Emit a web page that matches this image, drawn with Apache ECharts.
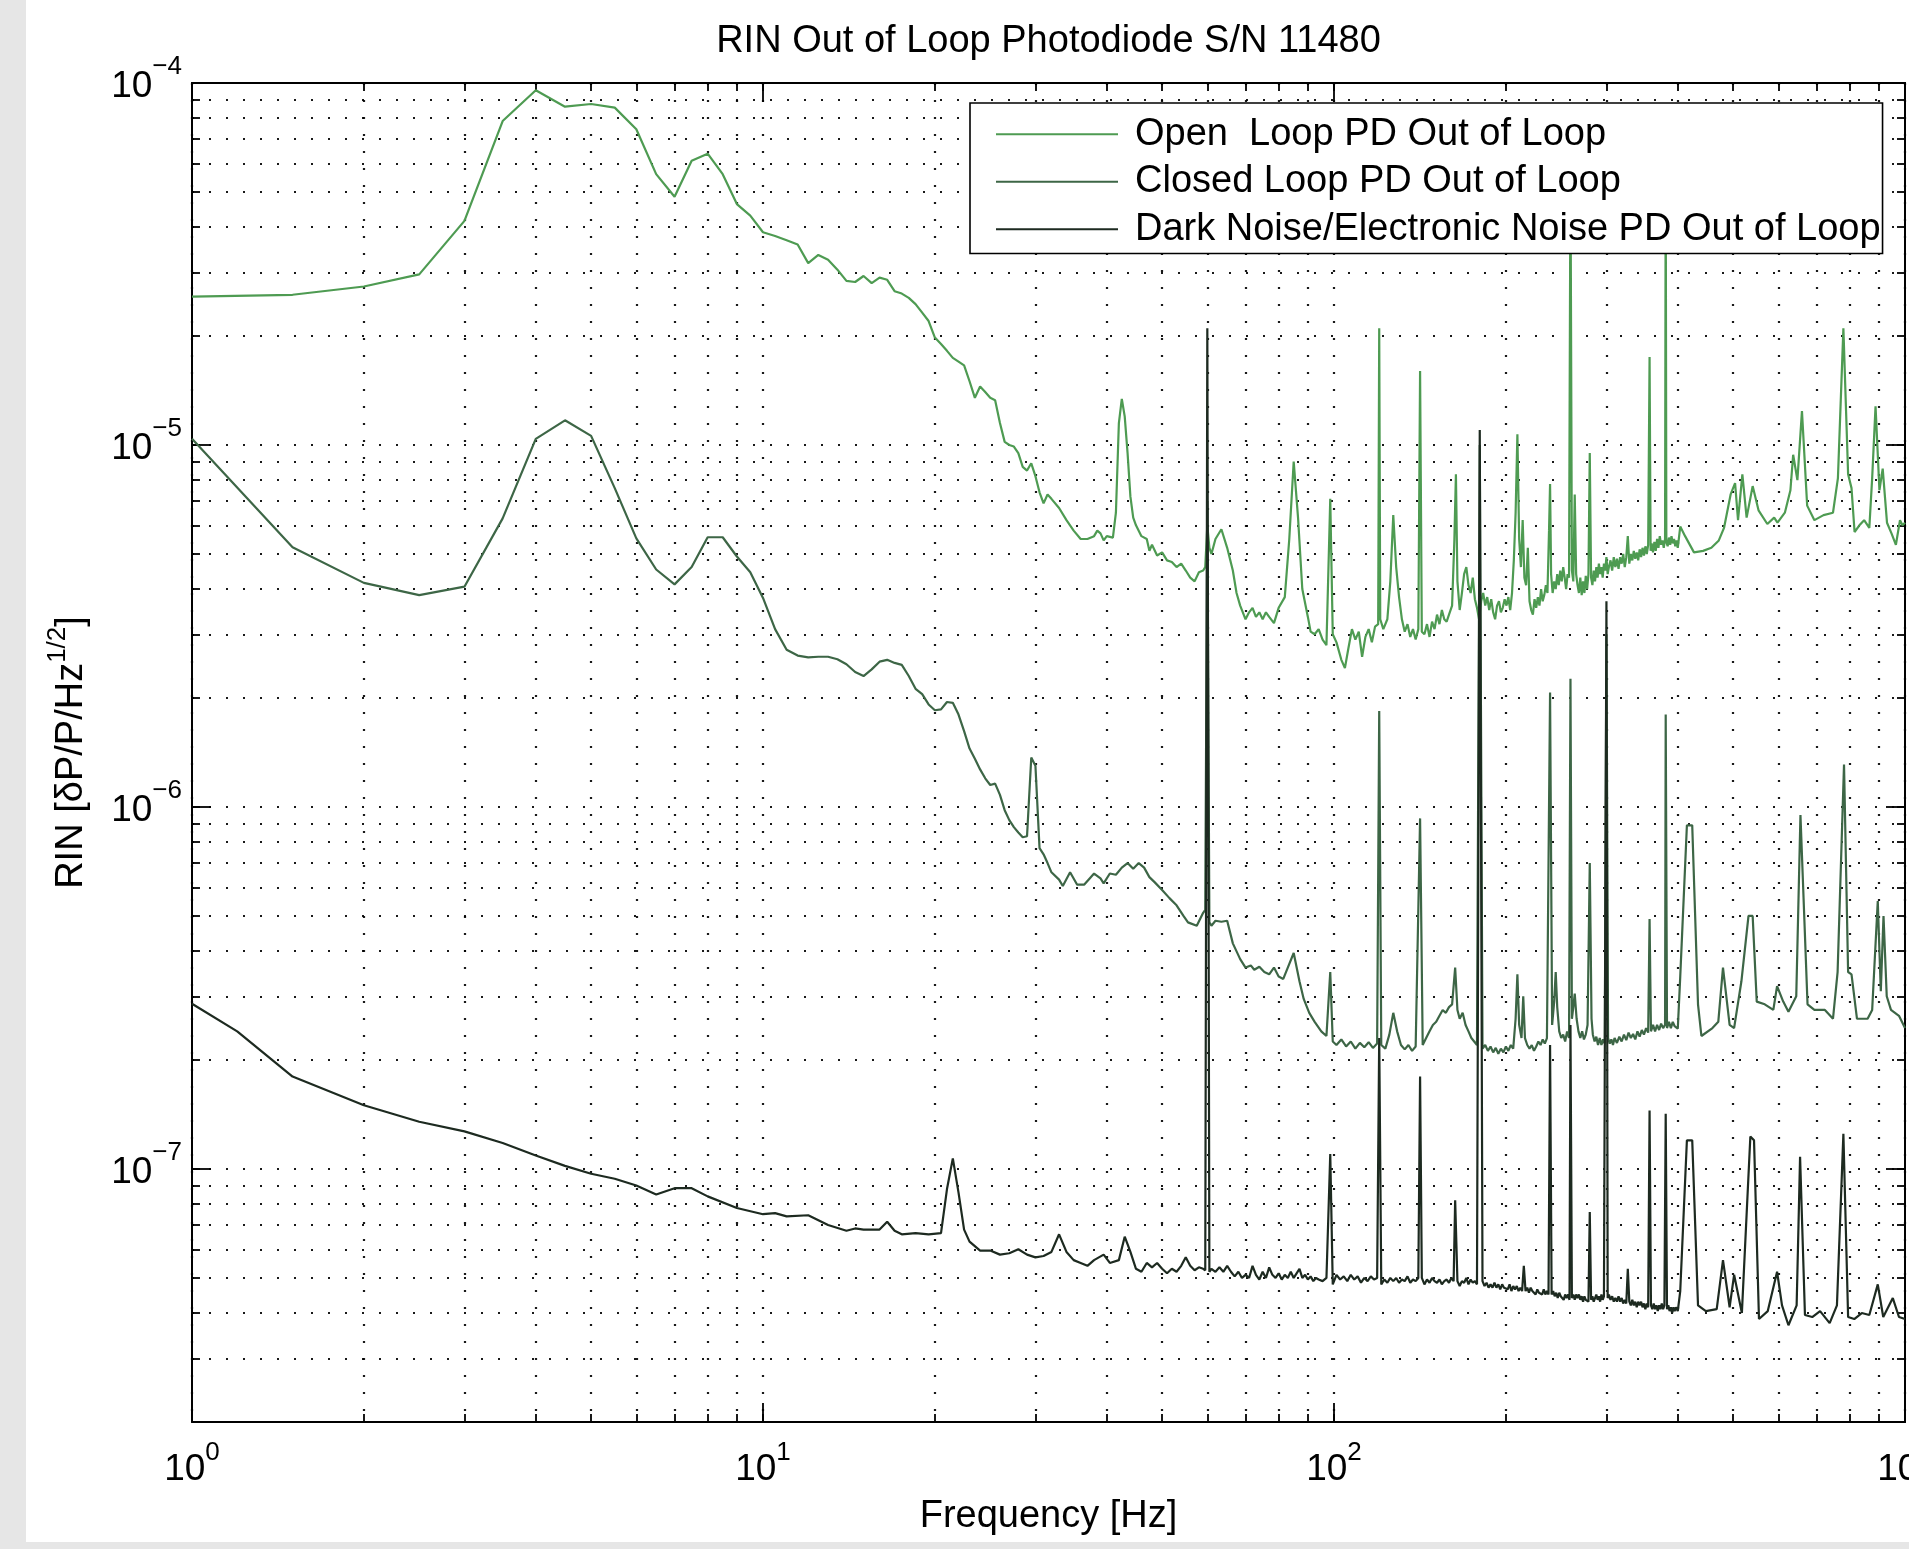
<!DOCTYPE html>
<html><head><meta charset="utf-8">
<script src="https://cdn.jsdelivr.net/npm/echarts@6/dist/echarts.min.js"></script>
<style>
html,body{margin:0;padding:0;width:1909px;height:1549px;overflow:hidden;background:#e6e6e6;}
#chart{position:absolute;left:26px;top:0;width:2045px;height:1542px;background:#fff;}
</style></head><body><div id="chart"></div>
<script>
const FONT = "'Liberation Sans', Arial, Helvetica, sans-serif";

const titleText = 'RIN Out of Loop Photodiode S/N 11480';
const seriesNames = ['Open  Loop PD Out of Loop', 'Closed Loop PD Out of Loop', 'Dark Noise/Electronic Noise PD Out of Loop'];
const seriesColors = ['#4e9b52', '#3d6646', '#1d2a20'];

const xAllTicks = [1,2,3,4,5,6,7,8,9,10,20,30,40,50,60,70,80,90,100,200,300,400,500,600,700,800,900,1000];
const xMajorTicks = [1,10,100,1000];
const yAllTicks = [2e-8,3e-8,4e-8,5e-8,6e-8,7e-8,8e-8,9e-8,1e-7,2e-7,3e-7,4e-7,5e-7,6e-7,7e-7,8e-7,9e-7,1e-6,2e-6,3e-6,4e-6,5e-6,6e-6,7e-6,8e-6,9e-6,1e-5,2e-5,3e-5,4e-5,5e-5,6e-5,7e-5,8e-5,9e-5,1e-4];
const yMajorTicks = [1e-7,1e-6,1e-5,1e-4];

const openLoop = [
[1,2.57e-5],[1.5,2.6e-5],[2,2.74e-5],[2.5,2.96e-5],[3,4.16e-5],[3.5,7.85e-5],[4,9.55e-5],[4.5,8.6e-5],[5,8.75e-5],[5.5,8.55e-5],
[6,7.45e-5],[6.5,5.6e-5],[7,4.85e-5],[7.5,6.1e-5],[8,6.38e-5],[8.5,5.6e-5],[9,4.63e-5],[9.5,4.3e-5],[10,3.87e-5],[10.5,3.78e-5],
[11,3.68e-5],[11.5,3.58e-5],[12,3.18e-5],[12.5,3.35e-5],[13,3.25e-5],[13.5,3.05e-5],[14,2.84e-5],[14.5,2.82e-5],[15,2.93e-5],[15.5,2.8e-5],
[16,2.9e-5],[16.5,2.86e-5],[17,2.66e-5],[17.5,2.62e-5],[18,2.55e-5],[18.5,2.45e-5],[19,2.32e-5],[19.5,2.2e-5],[20,1.98e-5],[20.5,1.9e-5],
[21,1.82e-5],[21.5,1.74e-5],[22,1.7e-5],[22.5,1.66e-5],[23,1.5e-5],[23.5,1.35e-5],[24,1.45e-5],[24.5,1.4e-5],[25,1.35e-5],[25.5,1.33e-5],
[26,1.15e-5],[26.5,1.02e-5],[27,1.0e-5],[27.5,9.9e-6],[28,9.5e-6],[28.5,8.7e-6],[29,8.5e-6],[29.5,8.9e-6],[30,8.2e-6],[30.5,7.4e-6],
[31,6.9e-6],[31.5,7.3e-6],[32,7.1e-6],[33,6.7e-6],[34,6.2e-6],[35,5.8e-6],[36,5.5e-6],[37,5.5e-6],[38,5.6e-6],[38.5,5.8e-6],
[39,5.7e-6],[39.5,5.45e-6],[40,5.6e-6],[41,5.55e-6],[41.5,6.5e-6],[42,1.15e-5],[42.5,1.34e-5],[43,1.2e-5],[43.5,9.5e-6],[44,7.2e-6],
[44.5,6.3e-6],[45,6.0e-6],[46,5.6e-6],[47,5.5e-6],[47.5,5.1e-6],[48,5.3e-6],[49,4.95e-6],[50,5.05e-6],[51,4.8e-6],[52,4.75e-6],
[53,4.6e-6],[54,4.7e-6],[55,4.5e-6],[56,4.3e-6],[57,4.2e-6],[58,4.45e-6],[59,4.5e-6],[59.5,4.6e-6],[60,6.0e-6],[60.5,5.2e-6],
[61,5.0e-6],[62,5.5e-6],[63.5,5.85e-6],[65,5.2e-6],[66.5,4.5e-6],[67.5,3.9e-6],[68.5,3.6e-6],[70,3.3e-6],[71,3.45e-6],[72,3.55e-6],
[73,3.35e-6],[74,3.45e-6],[75,3.3e-6],[76,3.45e-6],[77,3.35e-6],[78.5,3.22e-6],[80,3.55e-6],[82,3.8e-6],[83.5,5.5e-6],[85,9.0e-6],
[86.5,6.3e-6],[88,4.0e-6],[90,3.35e-6],[91,3.05e-6],[92.5,3.0e-6],[94,3.1e-6],[95.5,2.9e-6],[97,2.8e-6],[98.5,7.1e-6],[99.5,3.0e-6],
[101,2.85e-6],[103,2.55e-6],[104.5,2.42e-6],[106,2.75e-6],[107.5,3.1e-6],[109,2.9e-6],[110.5,3.05e-6],[112,2.6e-6],[113.5,2.95e-6],[115,3.1e-6],
[116.5,2.85e-6],[118,3.15e-6],[119.5,3.2e-6],[120,2.1e-5],[120.5,3.3e-6],[122,3.1e-6],[124,3.3e-6],[125.5,4.2e-6],[127,6.4e-6],[128.5,4.6e-6],
[130,3.8e-6],[131.5,3.3e-6],[133,3.05e-6],[134.5,3.2e-6],[136,2.95e-6],[137.5,3.1e-6],[139,2.9e-6],[140.5,3.1e-6],[141.5,1.6e-5],[142.5,3.05e-6],
[144,3.0e-6],[145.5,3.2e-6],[147,2.95e-6],[148.5,3.25e-6],[150,3.1e-6],[151.5,3.4e-6],[153,3.2e-6],[154.5,3.5e-6],[156,3.3e-6],[157.5,3.25e-6],
[159,3.4e-6],[161,3.6e-6],[162.5,5.5e-6],[163.5,8.3e-6],[164.5,4.2e-6],[166,3.5e-6],[167.5,3.9e-6],[169,4.4e-6],[170.5,4.6e-6],[172,4.1e-6],
[173.5,3.9e-6],[175,4.3e-6],[176.5,3.75e-6],[178,3.55e-6],[179.5,3.3e-6],[181,3.7e-6],[182.5,3.9e-6],[184,3.6e-6],[185.5,3.8e-6],[187,3.5e-6],
[188.5,3.75e-6],[190,3.45e-6],[191.5,3.3e-6],[193,3.6e-6],[194.5,3.7e-6],[196,3.45e-6],[197.5,3.55e-6],[199,3.75e-6],[200.5,3.6e-6],[202,3.8e-6],
[203.5,3.5e-6],[205,3.9e-6],[206.5,4.8e-6],[208,6.5e-6],[209.5,1.07e-5],[211,5.5e-6],[212.5,4.6e-6],[214,6.2e-6],[215.5,4.3e-6],[217,4.1e-6],
[218.5,5.2e-6],[220,3.7e-6],[221.5,3.5e-6],[223,3.4e-6],[224.5,3.75e-6],[226,3.55e-6],[227.5,3.8e-6],[229,3.6e-6],[230.5,4.0e-6],[232,3.7e-6],
[233.5,3.85e-6],[235,4.1e-6],[236.5,3.9e-6],[238,5.8e-6],[239,7.8e-6],[240,4.4e-6],[241.5,3.9e-6],[243,4.2e-6],[244.5,4.0e-6],[246,4.4e-6],
[247.5,4.1e-6],[249,4.5e-6],[250.5,4.2e-6],[252,4.6e-6],[253.5,4.3e-6],[255,4.0e-6],[256.5,4.4e-6],[258,4.3e-6],[259.5,6.0e-5],[261,4.5e-6],
[262.5,4.2e-6],[264,7.3e-6],[265.5,4.4e-6],[267,4.1e-6],[268.5,3.9e-6],[270,4.3e-6],[271.5,3.85e-6],[273,4.2e-6],[274.5,3.9e-6],[276,4.35e-6],
[277.5,4.0e-6],[279,4.4e-6],[280.5,9.5e-6],[282,4.3e-6],[283.5,4.1e-6],[285,4.5e-6],[286.5,4.2e-6],[288,4.6e-6],[289.5,4.3e-6],[291,4.7e-6],
[292.5,4.4e-6],[294,4.6e-6],[295.5,4.3e-6],[297,4.7e-6],[298.5,4.5e-6],[300,4.9e-6],[301.5,4.4e-6],[303,4.6e-6],[305,4.8e-6],[307,4.5e-6],
[309,4.9e-6],[311,4.6e-6],[313,4.85e-6],[315,4.55e-6],[317,4.9e-6],[319,4.7e-6],[321,5.0e-6],[323,4.6e-6],[325,4.9e-6],[327,5.6e-6],
[329,4.7e-6],[331,5.0e-6],[333,4.8e-6],[335,5.1e-6],[337,4.85e-6],[339,5.05e-6],[341,4.8e-6],[343,5.15e-6],[345,4.9e-6],[347,5.2e-6],
[349,4.95e-6],[351,5.25e-6],[353,5.0e-6],[355,5.3e-6],[357,1.75e-5],[358.5,5.1e-6],[360,5.35e-6],[362,5.05e-6],[364,5.4e-6],[366,5.1e-6],
[368,5.5e-6],[370,5.2e-6],[372,5.6e-6],[374,5.3e-6],[376,5.45e-6],[378,5.2e-6],[380,5.5e-6],[381,6.0e-5],[382,5.4e-6],[384,5.25e-6],
[386,5.55e-6],[388,5.3e-6],[390,5.6e-6],[392,5.35e-6],[394,5.5e-6],[396,5.25e-6],[398,5.45e-6],[400,5.2e-6],[404,5.95e-6],[412,5.6e-6],
[427,5.05e-6],[443,5.1e-6],[458,5.2e-6],[472,5.45e-6],[482,5.9e-6],[495,7.3e-6],[504,7.85e-6],[510,6.2e-6],[519,8.3e-6],[528,6.3e-6],
[541,7.7e-6],[554,6.6e-6],[574,6.05e-6],[590,6.3e-6],[598,6.1e-6],[616,6.5e-6],[630,7.5e-6],[637,9.4e-6],[648,8.0e-6],[660,1.24e-5],
[674,6.8e-6],[694,6.2e-6],[720,6.4e-6],[748,6.5e-6],[763,8.1e-6],[780,2.1e-5],[795,8.3e-6],[806,7.6e-6],[816,5.75e-6],[832,6.0e-6],
[848,6.2e-6],[866,5.9e-6],[876,8.1e-6],[888,1.28e-5],[902,7.5e-6],[914,8.6e-6],[930,6.1e-6],[947,5.7e-6],[964,5.3e-6],[980,6.2e-6],
[990,6.0e-6],[1000,6.1e-6]
];

const closedLoop = [
[1,1.04e-5],[1.5,5.22e-6],[2,4.16e-6],[2.5,3.85e-6],[3,4.06e-6],[3.5,6.27e-6],[4,1.04e-5],[4.5,1.17e-5],[5,1.06e-5],[5.5,7.6e-6],
[6,5.52e-6],[6.5,4.53e-6],[7,4.12e-6],[7.5,4.6e-6],[8,5.56e-6],[8.5,5.56e-6],[9,4.92e-6],[9.5,4.45e-6],[10,3.78e-6],[10.5,3.1e-6],
[11,2.72e-6],[11.5,2.62e-6],[12,2.59e-6],[12.5,2.6e-6],[13,2.6e-6],[13.5,2.56e-6],[14,2.48e-6],[14.5,2.36e-6],[15,2.3e-6],[15.5,2.4e-6],
[16,2.52e-6],[16.5,2.55e-6],[17,2.5e-6],[17.5,2.47e-6],[18,2.3e-6],[18.5,2.12e-6],[19,2.05e-6],[19.5,1.92e-6],[20,1.85e-6],[20.5,1.86e-6],
[21,1.95e-6],[21.5,1.94e-6],[22,1.8e-6],[22.5,1.62e-6],[23,1.45e-6],[23.5,1.36e-6],[24,1.27e-6],[24.5,1.2e-6],[25,1.15e-6],[25.5,1.16e-6],
[26,1.08e-6],[26.5,9.8e-7],[27,9.2e-7],[27.5,8.8e-7],[28,8.5e-7],[28.5,8.25e-7],[29,8.3e-7],[29.5,1.37e-6],[30,1.3e-6],[30.5,7.7e-7],
[31,7.4e-7],[31.5,7.0e-7],[32,6.6e-7],[33,6.3e-7],[33.5,6.05e-7],[34.5,6.6e-7],[35.5,6.1e-7],[36.5,6.1e-7],[37.5,6.4e-7],[38,6.55e-7],
[39,6.35e-7],[39.5,6.15e-7],[40.5,6.55e-7],[41.5,6.5e-7],[42.5,6.8e-7],[43.5,7.0e-7],[44.5,6.75e-7],[45.5,7.0e-7],[46.5,6.8e-7],[47.5,6.4e-7],
[48.5,6.2e-7],[50,5.9e-7],[51.5,5.6e-7],[53,5.35e-7],[54.5,5.0e-7],[55.5,4.8e-7],[57.5,4.7e-7],[59,5.1e-7],[59.5,5.2e-7],[60,7.0e-6],
[60.5,4.8e-7],[61,4.7e-7],[62,4.85e-7],[63.5,4.82e-7],[65,4.85e-7],[66.5,4.2e-7],[68.5,3.8e-7],[70,3.6e-7],[71.5,3.65e-7],[72.5,3.55e-7],
[74,3.62e-7],[75.5,3.5e-7],[77,3.45e-7],[78.5,3.6e-7],[80,3.4e-7],[81.5,3.35e-7],[83,3.6e-7],[85,3.95e-7],[87,3.3e-7],[88.5,2.95e-7],
[90.5,2.7e-7],[92.5,2.55e-7],[95,2.4e-7],[97,2.33e-7],[98.5,3.5e-7],[99.5,2.25e-7],[101,2.2e-7],[103,2.28e-7],[105,2.18e-7],[107,2.25e-7],
[109,2.15e-7],[111,2.23e-7],[113,2.17e-7],[115,2.24e-7],[117,2.16e-7],[119,2.22e-7],[120,1.84e-6],[121,2.2e-7],[123,2.15e-7],[125,2.35e-7],
[127,2.7e-7],[129,2.4e-7],[131,2.2e-7],[133,2.14e-7],[135,2.2e-7],[137,2.12e-7],[139,2.18e-7],[141.5,9.3e-7],[143,2.2e-7],[145,2.3e-7],
[147,2.4e-7],[149,2.5e-7],[151,2.55e-7],[153,2.65e-7],[155,2.75e-7],[157,2.7e-7],[159,2.8e-7],[161,2.85e-7],[163,3.6e-7],[164.5,2.75e-7],
[166,2.6e-7],[168,2.7e-7],[170,2.5e-7],[172,2.4e-7],[174,2.3e-7],[176,2.25e-7],[178,2.2e-7],[180,1.0e-5],[182,2.15e-7],[184,2.2e-7],
[186,2.12e-7],[188,2.18e-7],[190,2.1e-7],[192,2.16e-7],[194,2.08e-7],[196,2.15e-7],[198,2.1e-7],[200,2.18e-7],[202,2.12e-7],[204,2.2e-7],
[206,2.15e-7],[208,2.6e-7],[209.5,3.45e-7],[211,2.5e-7],[213,2.3e-7],[214.5,3.0e-7],[216,2.3e-7],[218,2.2e-7],[220,2.15e-7],[222,2.2e-7],
[224,2.12e-7],[226,2.18e-7],[228,2.25e-7],[230,2.2e-7],[232,2.28e-7],[234,2.22e-7],[236,2.3e-7],[239,2.07e-6],[241,2.5e-7],[243,2.9e-7],
[244.5,3.5e-7],[246,2.8e-7],[248,2.4e-7],[250,2.3e-7],[252,2.35e-7],[254,2.25e-7],[256,2.4e-7],[258,2.3e-7],[259.5,2.26e-6],[261,2.6e-7],
[262.5,2.8e-7],[264,3.05e-7],[266,2.6e-7],[268,2.4e-7],[270,2.3e-7],[272,2.4e-7],[274,2.28e-7],[276,2.35e-7],[278,2.5e-7],[280.5,7.0e-7],
[282.5,2.6e-7],[284,2.35e-7],[286,2.25e-7],[288,2.32e-7],[290,2.2e-7],[292,2.3e-7],[294,2.2e-7],[296,2.28e-7],[298,2.22e-7],[300,3.0e-6],
[302,2.3e-7],[304,2.22e-7],[306,2.28e-7],[308,2.2e-7],[310,2.3e-7],[313,2.23e-7],[316,2.32e-7],[319,2.25e-7],[322,2.35e-7],[325,2.27e-7],
[328,2.38e-7],[331,2.3e-7],[334,2.36e-7],[337,2.28e-7],[340,2.4e-7],[343,2.32e-7],[346,2.42e-7],[349,2.35e-7],[352,2.45e-7],[355,2.38e-7],
[357,4.9e-7],[359,2.4e-7],[362,2.5e-7],[365,2.4e-7],[368,2.5e-7],[371,2.42e-7],[374,2.52e-7],[377,2.45e-7],[380,2.5e-7],[381,1.8e-6],
[383,2.45e-7],[386,2.55e-7],[389,2.45e-7],[392,2.55e-7],[395,2.48e-7],[398,2.5e-7],[400,2.44e-7],[404,3.4e-7],[415,8.9e-7],[424,8.9e-7],
[434,2.85e-7],[440,2.33e-7],[460,2.45e-7],[471,2.55e-7],[480,3.6e-7],[493,2.5e-7],[502,2.45e-7],[517,3.3e-7],[532,5.0e-7],[541,5.0e-7],
[550,2.9e-7],[568,2.85e-7],[588,2.75e-7],[597,3.2e-7],[612,2.9e-7],[625,2.72e-7],[645,3.0e-7],[656,9.5e-7],[675,2.85e-7],[694,2.75e-7],
[724,2.75e-7],[748,2.6e-7],[762,3.5e-7],[782,1.31e-6],[795,3.5e-7],[806,3.45e-7],[824,2.6e-7],[860,2.6e-7],[876,2.75e-7],[896,5.5e-7],
[907,3.1e-7],[917,5.0e-7],[929,3.0e-7],[945,2.75e-7],[976,2.65e-7],[1000,2.45e-7]
];

const darkNoise = [
[1,2.86e-7],[1.2,2.4e-7],[1.5,1.8e-7],[2,1.5e-7],[2.5,1.35e-7],[3,1.27e-7],[3.5,1.18e-7],[4,1.09e-7],[4.5,1.02e-7],[5,9.7e-8],
[5.5,9.4e-8],[6,9.0e-8],[6.5,8.5e-8],[7,8.85e-8],[7.5,8.85e-8],[8,8.4e-8],[9,7.8e-8],[10,7.5e-8],[10.5,7.55e-8],[11,7.4e-8],
[12,7.45e-8],[13,7.0e-8],[14,6.75e-8],[14.5,6.85e-8],[15,6.8e-8],[16,6.8e-8],[16.5,7.15e-8],[17,6.75e-8],[17.5,6.6e-8],[18.5,6.65e-8],
[19.5,6.6e-8],[20.5,6.65e-8],[21,8.8e-8],[21.5,1.07e-7],[22,8.6e-8],[22.5,6.8e-8],[23,6.3e-8],[24,5.95e-8],[25,5.95e-8],[26,5.8e-8],
[27,5.85e-8],[28,6.0e-8],[29,5.8e-8],[30,5.7e-8],[31,5.75e-8],[32,5.9e-8],[33,6.6e-8],[34,5.9e-8],[35,5.6e-8],[36,5.5e-8],
[37,5.4e-8],[38,5.6e-8],[39.5,5.8e-8],[40.5,5.5e-8],[42,5.6e-8],[43,6.5e-8],[44,5.9e-8],[45,5.3e-8],[46,5.2e-8],[47,5.5e-8],
[48,5.35e-8],[49,5.5e-8],[50,5.3e-8],[51,5.15e-8],[52,5.3e-8],[53,5.2e-8],[54,5.4e-8],[55,5.7e-8],[56,5.4e-8],[57,5.25e-8],
[58,5.35e-8],[59,5.3e-8],[59.5,5.25e-8],[60,2.1e-5],[60.5,5.2e-8],[61,5.3e-8],[62,5.2e-8],[63,5.35e-8],[64,5.2e-8],[65,5.4e-8],
[66,5.2e-8],[67,5.05e-8],[68,5.2e-8],[69,5.0e-8],[70,5.1e-8],[71,5.0e-8],[72,5.4e-8],[73,5.1e-8],[74,4.95e-8],[75,5.2e-8],
[76,5.0e-8],[77,5.35e-8],[78,5.1e-8],[79,5.0e-8],[80,5.15e-8],[81,4.95e-8],[82,5.1e-8],[83,5.0e-8],[84,5.2e-8],[85,5.0e-8],
[86,5.15e-8],[87,5.3e-8],[88,5.0e-8],[89,5.1e-8],[90,4.95e-8],[91,5.05e-8],[92,4.9e-8],[93,5.0e-8],[94,4.95e-8],[95.5,4.9e-8],
[97,5.0e-8],[98.5,1.1e-7],[99.5,4.8e-8],[101,5.1e-8],[102.5,4.95e-8],[104,5.05e-8],[105.5,4.9e-8],[107,5.1e-8],[108.5,4.95e-8],[110,5.05e-8],
[111.5,4.85e-8],[113,5.0e-8],[114.5,4.9e-8],[116,5.05e-8],[117.5,4.95e-8],[119,5.0e-8],[120,2.3e-7],[121,4.8e-8],[122.5,4.95e-8],[124,4.85e-8],
[125.5,5.0e-8],[127,4.9e-8],[128.5,5.0e-8],[130,4.85e-8],[131.5,4.95e-8],[133,4.9e-8],[134.5,5.05e-8],[136,4.85e-8],[137.5,4.95e-8],[139,4.9e-8],
[140.5,5.0e-8],[141.5,1.8e-7],[142.5,5.0e-8],[144,4.8e-8],[145.5,4.95e-8],[147,4.85e-8],[148.5,5.0e-8],[150,4.9e-8],[151.5,4.85e-8],[153,4.95e-8],
[154.5,4.8e-8],[156,4.9e-8],[157.5,4.95e-8],[159,4.85e-8],[160.5,5.0e-8],[162,4.9e-8],[163,8.2e-8],[164.5,4.9e-8],[166,4.75e-8],[167.5,4.9e-8],
[169,4.85e-8],[170.5,5.0e-8],[172,4.8e-8],[173.5,4.95e-8],[175,4.85e-8],[176.5,4.9e-8],[178,4.8e-8],[180,1.1e-5],[182,4.9e-8],[183.5,4.75e-8],
[185,4.85e-8],[186.5,4.7e-8],[188,4.8e-8],[189.5,4.7e-8],[191,4.85e-8],[192.5,4.7e-8],[194,4.8e-8],[195.5,4.65e-8],[197,4.8e-8],[198.5,4.7e-8],
[200,4.75e-8],[201.5,4.65e-8],[203,4.8e-8],[204.5,4.6e-8],[206,4.75e-8],[207.5,4.65e-8],[209,4.75e-8],[210.5,4.6e-8],[212,4.7e-8],[213.5,4.6e-8],
[215,5.4e-8],[216.5,4.6e-8],[218,4.7e-8],[219.5,4.55e-8],[221,4.7e-8],[222.5,4.6e-8],[224,4.65e-8],[225.5,4.5e-8],[227,4.65e-8],[228.5,4.55e-8],
[230,4.6e-8],[231.5,4.5e-8],[233,4.65e-8],[234.5,4.5e-8],[236,4.6e-8],[237.5,4.5e-8],[239,2.2e-7],[240.5,4.5e-8],[242,4.6e-8],[243.5,4.45e-8],
[245,4.55e-8],[246.5,4.4e-8],[248,4.55e-8],[249.5,4.45e-8],[251,4.5e-8],[252.5,4.35e-8],[254,4.5e-8],[255.5,4.4e-8],[257,4.5e-8],[258.5,4.35e-8],
[259.5,2.5e-7],[261,4.4e-8],[262.5,4.5e-8],[264,4.35e-8],[265.5,4.5e-8],[267,4.4e-8],[268.5,4.5e-8],[270,4.35e-8],[271.5,4.45e-8],[273,4.3e-8],
[274.5,4.45e-8],[276,4.35e-8],[277.5,4.4e-8],[279,4.3e-8],[280.5,7.6e-8],[282,4.35e-8],[283.5,4.45e-8],[285,4.3e-8],[286.5,4.4e-8],[288,4.5e-8],
[289.5,4.35e-8],[291,4.45e-8],[292.5,4.3e-8],[294,4.5e-8],[295.5,4.35e-8],[297,4.45e-8],[298.5,4.4e-8],[300,3.7e-6],[301.5,4.4e-8],[303,4.5e-8],
[305,4.35e-8],[307,4.45e-8],[309,4.3e-8],[311,4.4e-8],[313,4.3e-8],[315,4.45e-8],[317,4.3e-8],[319,4.4e-8],[321,4.25e-8],[323,4.35e-8],
[325,4.25e-8],[327,5.3e-8],[329,4.3e-8],[331,4.2e-8],[333,4.35e-8],[335,4.2e-8],[337,4.3e-8],[339,4.15e-8],[341,4.3e-8],[343,4.2e-8],
[345,4.3e-8],[347,4.15e-8],[349,4.25e-8],[351,4.1e-8],[353,4.25e-8],[355,4.15e-8],[357,1.45e-7],[359,4.2e-8],[361,4.1e-8],[363,4.25e-8],
[365,4.1e-8],[367,4.2e-8],[369,4.05e-8],[371,4.2e-8],[373,4.1e-8],[375,4.25e-8],[377,4.1e-8],[379,4.2e-8],[381,1.42e-7],[383,4.1e-8],
[385,4.2e-8],[387,4.05e-8],[389,4.15e-8],[391,4.0e-8],[393,4.15e-8],[395,4.05e-8],[397,4.15e-8],[400,4.05e-8],[404,4.6e-8],[415,1.2e-7],
[424,1.2e-7],[434,4.2e-8],[448,4.05e-8],[468,4.1e-8],[480,5.6e-8],[493,4.15e-8],[502,5.1e-8],[518,4.0e-8],[536,1.23e-7],[544,1.2e-7],
[555,3.85e-8],[575,4.05e-8],[597,5.2e-8],[609,4.2e-8],[625,3.7e-8],[646,4.2e-8],[655,1.08e-7],[668,3.95e-8],[688,3.9e-8],[710,4.05e-8],
[738,3.75e-8],[760,4.2e-8],[780,1.25e-7],[795,3.9e-8],[815,3.85e-8],[840,4.0e-8],[866,3.95e-8],[896,4.8e-8],[916,3.9e-8],[952,4.4e-8],
[976,3.9e-8],[1000,3.85e-8]
];

function expLabel(v) {
  const e = Math.round(Math.log10(v));
  return '{b|10}{s|' + (e < 0 ? '\u2212' + (-e) : String(e)) + '}';
}
const labelRich = {
  b: { fontSize: 37, fontFamily: FONT, color: '#000' },
  s: { fontSize: 26, fontFamily: FONT, color: '#000', padding: [0, 0, 34, 0] }
};
const yLabelRich = {
  b: { fontSize: 37, fontFamily: FONT, color: '#000', padding: [8, 0, 0, 0] },
  s: { fontSize: 26, fontFamily: FONT, color: '#000', padding: [0, 0, 33, 0] }
};
const dotted = { color: '#000', width: 2.2, type: [2, 15], opacity: 0.9 };
const axisLineStyle = { color: '#000', width: 2 };
const tickStyle = { color: '#000', width: 1.8 };

function xAx(pos, ticks, len, main) {
  return {
    type: 'log', logBase: 10, min: 1, max: 1000, position: pos,
    axisLine: { show: !!main || pos === 'top', onZero: false, lineStyle: axisLineStyle },
    axisTick: { show: true, inside: true, length: len, customValues: ticks, lineStyle: tickStyle },
    axisLabel: main ? { show: true, customValues: xMajorTicks, formatter: expLabel, margin: 18, rich: labelRich } : { show: false },
    splitLine: main ? { show: true, lineStyle: dotted } : { show: false },
    minorTick: { show: false }, minorSplitLine: { show: false },
    name: main ? 'Frequency [Hz]' : '', nameLocation: 'middle', nameGap: 76,
    nameTextStyle: { fontSize: 38, fontFamily: FONT, color: '#000', lineHeight: 38 }
  };
}
function yAx(pos, ticks, len, main) {
  return {
    type: 'log', logBase: 10, min: 2e-8, max: 1e-4, position: pos,
    axisLine: { show: !!main || pos === 'right', onZero: false, lineStyle: axisLineStyle },
    axisTick: { show: true, inside: true, length: len, customValues: ticks, lineStyle: tickStyle },
    axisLabel: main ? { show: true, customValues: yMajorTicks, formatter: expLabel, margin: 10, rich: yLabelRich } : { show: false },
    splitLine: main ? { show: true, lineStyle: dotted } : { show: false },
    minorTick: { show: false }, minorSplitLine: { show: false },
    name: main ? '{n|RIN [\u03B4P/P/Hz}{s|1/2}{n|]}' : '', nameLocation: 'middle', nameGap: 93,
    nameTextStyle: { fontSize: 38, fontFamily: FONT, color: '#000',
      rich: { n: { fontSize: 38, fontFamily: FONT, color: '#000' },
              s: { fontSize: 26, fontFamily: FONT, color: '#000', padding: [0, 0, 28, 0] } } }
  };
}

const chart = echarts.init(document.getElementById('chart'), null, { renderer: 'canvas' });
chart.setOption({
  animation: false,
  backgroundColor: '#fff',
  title: { text: titleText, left: 'center', top: 18,
    textStyle: { fontFamily: FONT, fontSize: 38, fontWeight: 'normal', color: '#000', lineHeight: 38 } },
  grid: { left: 166, right: 166, top: 83, bottom: 120, containLabel: false },
  legend: {
    data: seriesNames, orient: 'vertical', left: 944, top: 103,
    backgroundColor: '#fff', borderColor: '#000', borderWidth: 1.6, borderRadius: 0,
    padding: [7.5, 2, 0.5, 26], itemGap: 0, itemWidth: 122, itemHeight: 2, icon: 'rect',
    itemStyle: { borderWidth: 0 },
    textStyle: { fontFamily: FONT, fontSize: 38, color: '#000', lineHeight: 47.5, padding: [0, 0, 0, 12] },
    selectedMode: false, z: 10
  },
  xAxis: [
    xAx('bottom', xAllTicks, 8, true),
    xAx('top', xAllTicks, 8, false),
    xAx('bottom', xMajorTicks, 19, false),
    xAx('top', xMajorTicks, 19, false)
  ],
  yAxis: [
    yAx('left', yAllTicks, 8, true),
    yAx('right', yAllTicks, 8, false),
    yAx('left', yMajorTicks, 19, false),
    yAx('right', yMajorTicks, 19, false)
  ],
  series: [
    { name: seriesNames[0], type: 'line', data: openLoop, color: seriesColors[0], showSymbol: false, symbol: 'none',
      lineStyle: { width: 2.2, color: seriesColors[0] }, xAxisIndex: 0, yAxisIndex: 0, z: 2 },
    { name: seriesNames[1], type: 'line', data: closedLoop, color: seriesColors[1], showSymbol: false, symbol: 'none',
      lineStyle: { width: 2.2, color: seriesColors[1] }, xAxisIndex: 0, yAxisIndex: 0, z: 3 },
    { name: seriesNames[2], type: 'line', data: darkNoise, color: seriesColors[2], showSymbol: false, symbol: 'none',
      lineStyle: { width: 2.2, color: seriesColors[2] }, xAxisIndex: 0, yAxisIndex: 0, z: 4 }
  ]
});
</script></body></html>
